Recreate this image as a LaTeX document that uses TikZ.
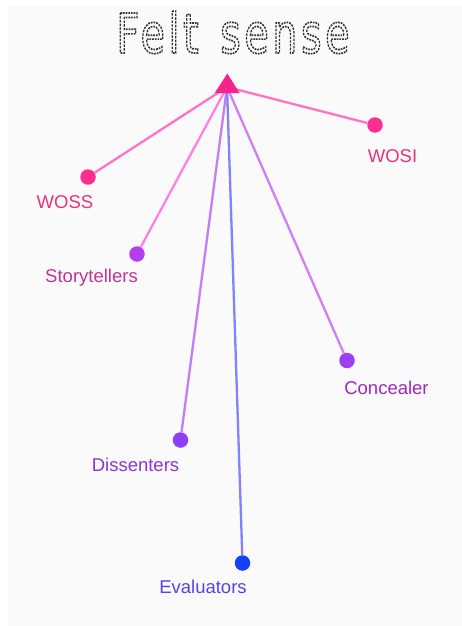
\documentclass[tikz,border=0pt]{standalone}
\usepackage{fontspec}
\usepackage{graphicx}
\setmainfont{Liberation Sans}
\newfontfamily\headingfont[LetterSpace=9]{DejaVu Sans}

% stroke-only glyph outlines with a fine dash
\newcommand\dashoutline[1]{%
  \special{pdf:literal direct 1 Tr 1.7 w [2.4 1.3] 0 d 0.2 0.2 0.2 RG}%
  #1%
  \special{pdf:literal direct 0 Tr [] 0 d 0.4 w}}

\definecolor{pagebg}{HTML}{FAFAFA}
\definecolor{hubpink}{HTML}{F5238A}
\definecolor{pinkline}{HTML}{FF72C8}
\definecolor{pinkdot}{HTML}{FF2D8E}
\definecolor{pinktext}{HTML}{E8337C}
\definecolor{storyline}{HTML}{FF7FE6}
\definecolor{storydot}{HTML}{B13FF0}
\definecolor{storytext}{HTML}{C0339C}
\definecolor{dissline}{HTML}{C27EF6}
\definecolor{dissdot}{HTML}{8E3FF4}
\definecolor{disstext}{HTML}{8A35D6}
\definecolor{concline}{HTML}{D080F4}
\definecolor{concdot}{HTML}{9C3FF0}
\definecolor{conctext}{HTML}{A028B8}
\definecolor{evalline}{HTML}{8282FF}
\definecolor{evaldot}{HTML}{1440FA}
\definecolor{evaltext}{HTML}{5A42E6}

\begin{document}
\begin{tikzpicture}[x=1pt,y=-1pt,
  spoke/.style={line width=2.3pt},
  dot/.style={circle,inner sep=0pt,minimum size=15.5pt},
  lbl/.style={font=\fontsize{18.5}{20}\selectfont,anchor=base,inner sep=0pt}]
\useasboundingbox (0,0) rectangle (462,626);
\fill[white] (0,0) rectangle (462,626);
\fill[pagebg] (8,6) rectangle (462,626);

% heading
\node[anchor=base,inner sep=0pt,text=black!80] (title) at (233,53)
  {\scalebox{0.72}[1]{\headingfont\fontsize{55}{60}\selectfont
   \dashoutline{Felt}\kern 30pt\dashoutline{sense}}};

% hub and leaves
\coordinate (hub) at (227,87);
\node[dot,fill=pinkdot]  (woss)  at (88,177) {};
\node[dot,fill=pinkdot]  (wosi)  at (375,125) {};
\node[dot,fill=storydot] (story) at (137,254) {};
\node[dot,fill=concdot]  (conc)  at (347,360.5) {};
\node[dot,fill=dissdot]  (diss)  at (180.5,440) {};
\node[dot,fill=evaldot]  (eval)  at (242.5,563) {};

\draw[spoke,draw=pinkline]  (hub) -- (woss);
\draw[spoke,draw=pinkline]  (hub) -- (wosi);
\draw[spoke,draw=storyline] (hub) -- (story);
\draw[spoke,draw=concline]  (hub) -- (conc);
\draw[spoke,draw=dissline]  (hub) -- (diss);
\draw[spoke,draw=evalline]  (hub) -- (eval);

\fill[hubpink] (227.3,73.5) -- (214.8,93) -- (239.6,93) -- cycle;

% labels
\node[lbl,text=pinktext]  (wossl)  at (65,208.5) {WOSS};
\node[lbl,text=pinktext]  (wosil)  at (392.5,162) {WOSI};
\node[lbl,text=storytext] (storyl) at (91.5,282) {Storytellers};
\node[lbl,text=conctext]  (concl)  at (386.5,394) {Concealer};
\node[lbl,text=disstext]  (dissl)  at (135.5,471) {Dissenters};
\node[lbl,text=evaltext]  (evall)  at (203,593) {Evaluators};
\end{tikzpicture}
\end{document}
